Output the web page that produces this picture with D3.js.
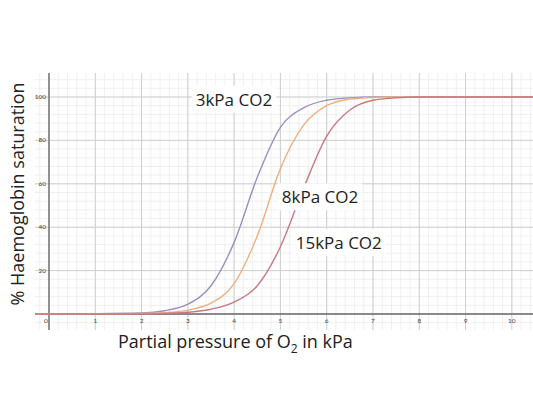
<!DOCTYPE html>
<html><head><meta charset="utf-8">
<script src="https://cdn.jsdelivr.net/npm/d3@7"></script>
<style>body{margin:0;background:#fff}</style>
</head><body>
<svg id="c" width="533" height="400"></svg>
<script>
var xTicks = [0,1,2,3,4,5,6,7,8,9,10];
var yTicks = [20,40,60,80,100];
var pO2 = [-0.3,2,2.5,3,3.5,4,4.5,5,5.5,6,6.5,7,7.5,8,10.5];
var sat3 = [0,0.5,1.5,4.5,13,33,63,86,95,98.5,99.6,100,100,100,100];
var sat8 = [0,0.2,0.6,1.8,5,14,36,67,87,96,99,99.8,100,100,100];
var sat15 = [0,0,0.3,0.8,2.2,5.5,13,31,58,82,94,98.5,99.6,100,100];
var series = [
  {name:"3kPa CO2", vals:sat3, color:"#9890c2", lx:3.17, ly:96},
  {name:"8kPa CO2", vals:sat8, color:"#f0b07e", lx:5.03, ly:51},
  {name:"15kPa CO2", vals:sat15, color:"#c97784", lx:5.33, ly:30}
];

var svg = d3.select("#c");
var x = d3.scaleLinear().domain([-0.3,10.5]).range([35.1,535]);
var y = d3.scaleLinear().domain([0,100]).range([314,97]);
var gTop = 73, gBottom = 330;

var g = svg.append("g");
d3.range(-0.2,10.6,0.2).forEach(function(v){
  g.append("line").attr("x1",x(v)).attr("x2",x(v)).attr("y1",gTop).attr("y2",gBottom)
    .attr("stroke","#ececec").attr("stroke-width",0.8);
});
d3.range(-4,112,4).forEach(function(v){
  g.append("line").attr("x1",35).attr("x2",533).attr("y1",y(v)).attr("y2",y(v))
    .attr("stroke","#ececec").attr("stroke-width",0.8);
});
xTicks.forEach(function(v){
  g.append("line").attr("x1",x(v)).attr("x2",x(v)).attr("y1",gTop).attr("y2",gBottom)
    .attr("stroke","#cfcfcf").attr("stroke-width",1);
});
yTicks.forEach(function(v){
  g.append("line").attr("x1",35).attr("x2",533).attr("y1",y(v)).attr("y2",y(v))
    .attr("stroke","#cfcfcf").attr("stroke-width",1);
});
svg.append("line").attr("x1",x(0)).attr("x2",x(0)).attr("y1",gTop).attr("y2",gBottom)
  .attr("stroke","#666").attr("stroke-width",1.3);
svg.append("line").attr("x1",35).attr("x2",533).attr("y1",y(0)).attr("y2",y(0))
  .attr("stroke","#666").attr("stroke-width",1.3);

svg.selectAll(".xt").data(xTicks).enter().append("text")
  .attr("x",function(d){return x(d)-(d===0?3:0);}).attr("y",y(0)+9)
  .attr("text-anchor","middle").attr("font-family","Lato").attr("font-size",6.5).attr("fill","#444")
  .text(function(d){return d;});
svg.selectAll(".yt").data(yTicks).enter().append("text")
  .attr("x",x(0)-3).attr("y",function(d){return y(d)+2;})
  .attr("text-anchor","end").attr("font-family","Lato").attr("font-size",6.5).attr("fill","#444")
  .text(function(d){return d;});

var line = d3.line().x(function(d){return x(d[0]);}).y(function(d){return y(d[1]);})
  .curve(d3.curveMonotoneX);
series.forEach(function(s){
  svg.append("path").datum(pO2.map(function(p,i){return [p,s.vals[i]];}))
    .attr("d",line).attr("fill","none").attr("stroke",s.color).attr("stroke-width",1.4);
});
series.forEach(function(s){
  var t = svg.append("text").attr("x",x(s.lx)).attr("y",y(s.ly))
    .attr("font-family","Open Sans").attr("font-size",17).attr("fill","#222").text(s.name);
  var b = t.node().getBBox();
  svg.insert("rect","text:last-of-type").attr("x",b.x-4).attr("y",b.y-2)
    .attr("width",b.width+8).attr("height",b.height+4).attr("fill","#fff");
});

svg.append("text").attr("transform","translate(24,194) rotate(-90)")
  .attr("text-anchor","middle").attr("font-family","Open Sans").attr("font-size",18).attr("fill","#222")
  .text("% Haemoglobin saturation");
var xt = svg.append("text").attr("x",118).attr("y",348)
  .attr("font-family","Open Sans").attr("font-size",18).attr("fill","#222");
xt.append("tspan").text("Partial pressure of O");
xt.append("tspan").attr("font-size",12).attr("dy",5).text("2");
xt.append("tspan").attr("dy",-5).text(" in kPa");
</script>
</body></html>
